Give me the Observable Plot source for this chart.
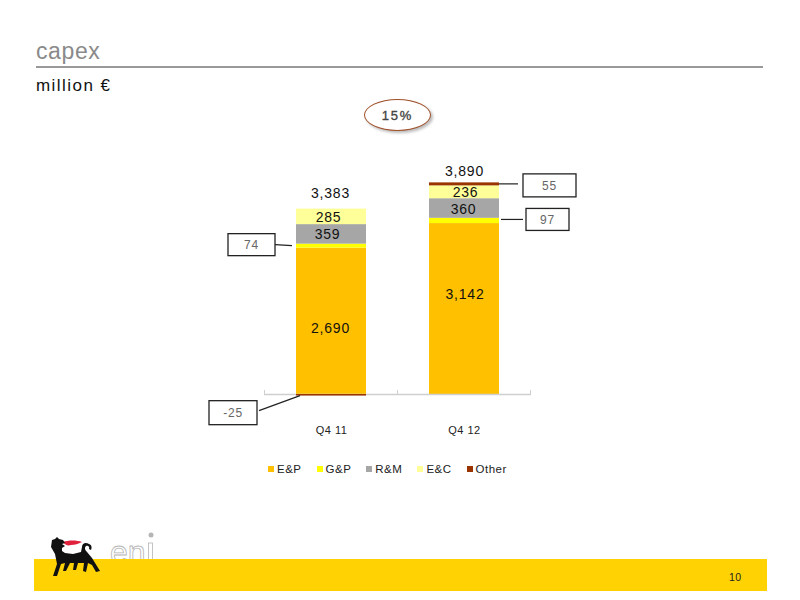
<!DOCTYPE html>
<html>
<head>
<meta charset="utf-8">
<script src="https://cdn.jsdelivr.net/npm/d3@7"></script>
<script src="https://cdn.jsdelivr.net/npm/@observablehq/plot@0.6"></script>
<style>
html,body{margin:0;padding:0;background:#fff;}
#page{position:relative;width:800px;height:600px;overflow:hidden;font-family:"Liberation Sans",Arial,sans-serif;}
#page>*{position:absolute;}
#title{left:36px;top:38px;font-size:23px;line-height:26px;color:#8a8a8a;letter-spacing:.6px;}
#rule{left:36px;top:66px;width:727px;height:2px;background:#999;}
#unit{left:36px;top:76px;font-size:17px;line-height:20px;color:#111;letter-spacing:1.45px;}
#oval{left:364px;top:99px;width:65px;height:30px;border:1.5px solid #a0502a;border-radius:50%;box-shadow:2px 2px 3px #bbb;background:#fff;
  text-align:center;line-height:31px;font-size:13px;color:#444;letter-spacing:1.8px;-webkit-text-stroke:.35px #444;}
#legend{left:268px;top:462px;display:flex;font-size:11.5px;line-height:14px;color:#222;letter-spacing:.5px;}
#legend span.i{display:flex;align-items:center;margin-right:15px;}
#legend i{display:inline-block;width:6px;height:6px;margin-right:3px;}
#band{left:34px;top:559px;width:733px;height:32px;background:#ffd204;}
#pageno{left:729px;top:571px;font-size:10.5px;line-height:12px;color:#222;letter-spacing:.4px;}
#logo{left:45px;top:530px;}
#chart svg text{letter-spacing:.8px;}
#chart svg [aria-label="x-axis tick label"] text{letter-spacing:.5px;}
</style>
</head>
<body>
<div id="page">
  <div id="band"></div>
  <div id="pageno">10</div>
  <div id="title">capex</div>
  <div id="rule"></div>
  <div id="unit">million €</div>
  <div id="oval">15%</div>
  <div id="chart" style="left:0;top:0"></div>
  <div id="legend"></div>
  <svg id="logo" width="120" height="50" viewBox="0 0 120 50">
    <text x="65" y="33" font-family="Liberation Sans" font-size="32" fill="#fff" stroke="#b5b5b5" stroke-width="0.8">en</text>
    <rect x="103.5" y="13" width="4" height="17" fill="#fff" stroke="#b5b5b5" stroke-width="0.8"/>
    <circle cx="106" cy="5" r="2.5" fill="#b5b5b5"/>
    <rect x="0" y="29" width="120" height="21" fill="#ffd204"/>
    <path d="M18 12 C23 10 32 10 37 12 C33 14 30 15 26 15 C23 16 20 15 18 12 Z" fill="#e0213c"/>
    <path d="M7 10 L10 9 L12 7 L14 9 L18 10 L20 13 L17 14 L20 16 L17 18 L17 21 L20 23 L28 24 L36 22 L37 17 C37 13 41 12 44 14 C47 15 47 18 46 20 L44 19 C45 17 43 15 41 16 C39 18 40 20 42 22 L47 28 L55 41 L51 42 L47 35 L43 33 L41 42 L38 41 L39 33 L33 33 L31 40 L28 40 L29 33 L25 33 L21 41 L18 41 L20 33 L16 34 L12 46 L8 46 L12 34 L10 24 L6 17 Z" fill="#111"/>
  </svg>
</div>
<script>
const categories = ["Q4 11", "Q4 12"];
const segments = ["E&P", "G&P", "R&M", "E&C", "Other"];
const colors = ["#FFC000", "#FFFF00", "#A6A6A6", "#FFFF99", "#993300"];
const q411 = [2690, 74, 359, 285, -25];
const q412 = [3142, 97, 360, 236, 55];
const totals = [3383, 3890];

const fmt = v => d3.format(",")(v).replace("\u2212", "-");
const FONT = "Liberation Sans";
const rows = [];
categories.forEach((c, ci) => {
  let pos = 0, neg = 0;
  [q411, q412][ci].forEach((v, si) => {
    const base = v < 0 ? neg : pos;
    rows.push({category: c, segment: segments[si], value: v, mid: base + v / 2, top: v < 0 ? neg + v : pos + v, base});
    if (v < 0) neg += v; else pos += v;
  });
});
const row = (c, s) => rows.find(d => d.category === c && d.segment === s);

/* layout: pixel nudges for labels, placed as on the slide */
const inBarNudge = [
  {category: "Q4 11", segment: "E&P", dx: -1, dy: 7},
  {category: "Q4 12", segment: "E&P", dx: 0.5, dy: -15},
  {category: "Q4 11", segment: "R&M", dx: -4, dy: 0},
  {category: "Q4 11", segment: "E&C", dx: -3, dy: 1},
  {category: "Q4 12", segment: "R&M", dx: -1, dy: 1},
  {category: "Q4 12", segment: "E&C", dx: 1, dy: 0}
];
const totalNudge = [{dx: -1, dy: -16}, {dx: 0, dy: -11}];
const callouts = [
  {category: "Q4 11", segment: "G&P", box: [-103, -56, -12, 10], line: [-56, -1, -39, 0]},
  {category: "Q4 12", segment: "Other", box: [59, 112, -10, 13], line: [35, 0, 54, 0]},
  {category: "Q4 12", segment: "G&P", box: [62, 105, -12, 10], line: [37, -1, 59, -1]},
  {category: "Q4 11", segment: "Other", box: [-122, -74, 6, 30], line: [-72, 16, -31, 1]}
];

function axisTicks(index, {x, y}) {
  const g = d3.create("svg:g").attr("stroke", "#cfcfcf").attr("fill", "none");
  const step = x.step ? x.step() : x.bandwidth();
  const y0 = y(0);
  const start = x(categories[0]) - (step - x.bandwidth()) / 2;
  d3.range(categories.length + 1).forEach(i => {
    g.append("line").attr("x1", start + i * step).attr("x2", start + i * step)
      .attr("y1", y0 - 4).attr("y2", y0);
  });
  return g.node();
}

function calloutMark(index, {x, y}) {
  const g = d3.create("svg:g");
  callouts.forEach(c => {
    const d = row(c.category, c.segment);
    const cx = x(c.category) + x.bandwidth() / 2;
    const cy = y(d.mid);
    const [x0, x1, y0, y1] = c.box;
    g.append("rect").attr("x", cx + x0).attr("y", cy + y0)
      .attr("width", x1 - x0).attr("height", y1 - y0)
      .attr("fill", "#fff").attr("stroke", "#222").attr("stroke-width", 1.3);
    g.append("line").attr("x1", cx + c.line[0]).attr("y1", cy + c.line[1])
      .attr("x2", cx + c.line[2]).attr("y2", cy + c.line[3])
      .attr("stroke", "#222").attr("stroke-width", 1.2);
    g.append("text").attr("x", cx + (x0 + x1) / 2).attr("y", cy + (y0 + y1) / 2)
      .attr("dy", "0.35em").attr("text-anchor", "middle")
      .attr("font-family", FONT).attr("font-size", 12)
      .attr("fill", "#666").text(fmt(d.value));
  });
  return g.node();
}

const chart = Plot.plot({
  width: 800,
  height: 600,
  marginLeft: 264,
  marginRight: 269,
  marginTop: 176.4,
  marginBottom: 206,
  style: {background: "transparent", overflow: "visible"},
  x: {domain: categories, paddingInner: 0.474, paddingOuter: 0.237, label: null},
  y: {domain: [0, 4000], axis: null},
  color: {domain: segments, range: colors},
  marks: [
    Plot.axisX({label: null, tickSize: 0, tickPadding: 32, fontSize: 11, fontFamily: FONT, fill: "#222"}),
    Plot.barY(rows, {x: "category", y: "value", fill: "segment", order: segments}),
    Plot.ruleY([0], {stroke: "#cfcfcf", strokeWidth: 1.5}),
    axisTicks,
    Plot.barY(rows.filter(d => d.value < 0), {x: "category", y1: "base", y2: "top", fill: "segment"}),
    ...inBarNudge.map(n => Plot.text([row(n.category, n.segment)], {
      x: "category", y: "mid", dx: n.dx, dy: n.dy, text: d => fmt(d.value),
      fontSize: 14, fontFamily: FONT, fill: "#111"
    })),
    ...categories.map((c, i) => Plot.text([{category: c, total: totals[i], top: rows.filter(d => d.category === c && d.value > 0).reduce((a, d) => a + d.value, 0)}], {
      x: "category", y: "top", dx: totalNudge[i].dx, dy: totalNudge[i].dy, text: d => fmt(d.total),
      fontSize: 14, fontFamily: FONT, fill: "#111"
    })),
    calloutMark
  ]
});
document.getElementById("chart").appendChild(chart);

const legend = d3.select("#legend");
segments.forEach((s, i) => {
  const item = legend.append("span").attr("class", "i");
  item.append("i").style("background", colors[i]);
  item.append("span").text(s);
});
</script>
</body>
</html>
